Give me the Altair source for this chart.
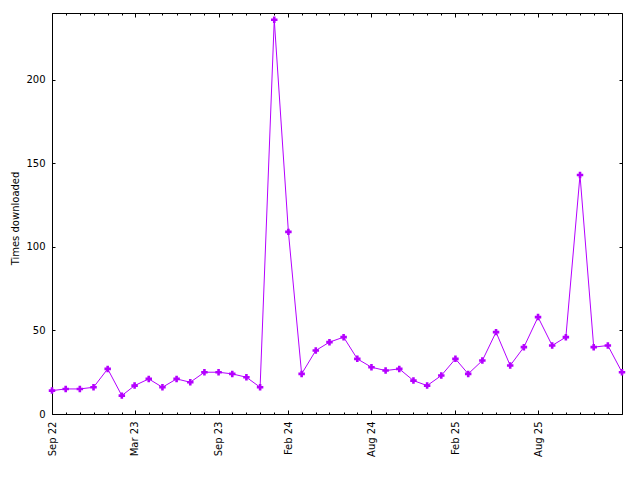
import altair as alt
import pandas as pd

months = [
    "2022-09-01", "2022-10-01", "2022-11-01", "2022-12-01",
    "2023-01-01", "2023-02-01", "2023-03-01", "2023-04-01", "2023-05-01", "2023-06-01",
    "2023-07-01", "2023-08-01", "2023-09-01", "2023-10-01", "2023-11-01", "2023-12-01",
    "2024-01-01", "2024-02-01", "2024-03-01", "2024-04-01", "2024-05-01", "2024-06-01",
    "2024-07-01", "2024-08-01", "2024-09-01", "2024-10-01", "2024-11-01", "2024-12-01",
    "2025-01-01", "2025-02-01", "2025-03-01", "2025-04-01", "2025-05-01", "2025-06-01",
    "2025-07-01", "2025-08-01", "2025-09-01", "2025-10-01", "2025-11-01", "2025-12-01",
    "2026-01-01", "2026-02-01",
]
counts = [
    14, 15, 15, 16,
    27, 11, 17, 21, 16, 21,
    19, 25, 25, 24, 22, 16,
    236, 109, 24, 38, 43, 46,
    33, 28, 26, 27, 20, 17,
    23, 33, 24, 32, 49, 29,
    40, 58, 41, 46, 143, 40,
    41, 25,
]
major_months = ["2022-09-01", "2023-03-01", "2023-09-01", "2024-02-01",
                "2024-08-01", "2025-02-01", "2025-08-01"]
y_ticks = [0, 50, 100, 150, 200]
y_max = 240

COLOR = "#b400ff"
FONT = "DejaVu Sans"


def dt(s):
    y, m, d = (int(p) for p in s.split("-"))
    return alt.DateTime(year=y, month=m, date=d)


df = pd.DataFrame({"date": [m + "T00:00:00" for m in months], "count": counts})

all_dt = [dt(m) for m in months]
major_dt = [dt(m) for m in major_months]

xscale = alt.Scale(domain=[dt(months[0]), dt(months[-1])], nice=False)
yscale = alt.Scale(domain=[0, y_max], nice=False, zero=True)

common = dict(domain=False, grid=False, tickColor="black", tickWidth=1,
              labelFont=FONT, labelFontSize=10, labelColor="black")

bottom_major = alt.Axis(orient="bottom", values=major_dt, format="%b %y",
                        labelAngle=-90, labelAlign="right", labelBaseline="middle",
                        offset=-4, tickSize=4, labelPadding=7, title=None,
                        labelOverlap=False, labelFlush=False, **common)
bottom_minor = alt.Axis(orient="bottom", values=all_dt, labels=False,
                        offset=-2, tickSize=2, title=None, **common)
top_major = alt.Axis(orient="top", values=major_dt, labels=False,
                     offset=-4, tickSize=4, title=None, **common)
top_minor = alt.Axis(orient="top", values=all_dt, labels=False,
                     offset=-2, tickSize=2, title=None, **common)
left_y = alt.Axis(orient="left", values=y_ticks, offset=-3, tickSize=3,
                  labelPadding=7, title="Times downloaded", titleFont=FONT,
                  titleFontSize=10, titleFontWeight="normal", titleColor="black",
                  titleAngle=-90, titleAlign="center", titleBaseline="bottom",
                  titleX=-35, titleY=205, **common)
right_y = alt.Axis(orient="right", values=y_ticks, offset=-3, tickSize=3,
                   labels=False, title=None, **common)

base = alt.Chart(df)

line = base.mark_line(color=COLOR, strokeWidth=1).encode(
    x=alt.X("date:T", scale=xscale, axis=bottom_major),
    y=alt.Y("count:Q", scale=yscale, axis=left_y),
)
pts = base.mark_point(shape="cross", filled=True, size=42, color=COLOR, opacity=1).encode(
    x=alt.X("date:T", scale=xscale, axis=bottom_minor),
    y=alt.Y("count:Q", scale=yscale, axis=right_y),
)
tmaj = base.mark_line(opacity=0).encode(
    x=alt.X("date:T", scale=xscale, axis=top_major),
    y=alt.Y("count:Q", scale=yscale, axis=None),
)
tmin = base.mark_line(opacity=0).encode(
    x=alt.X("date:T", scale=xscale, axis=top_minor),
    y=alt.Y("count:Q", scale=yscale, axis=None),
)

chart = alt.layer(line, pts, tmaj, tmin).resolve_axis(
    x="independent", y="independent"
).properties(
    width=570, height=401,
    autosize=alt.AutoSizeParams(type="none"),
    padding={"left": 44, "top": 5, "right": 10, "bottom": 50},
    background="white",
).configure_view(stroke="black", strokeWidth=1)

chart.save("out.html", embed_options={"renderer": "svg", "actions": False})
